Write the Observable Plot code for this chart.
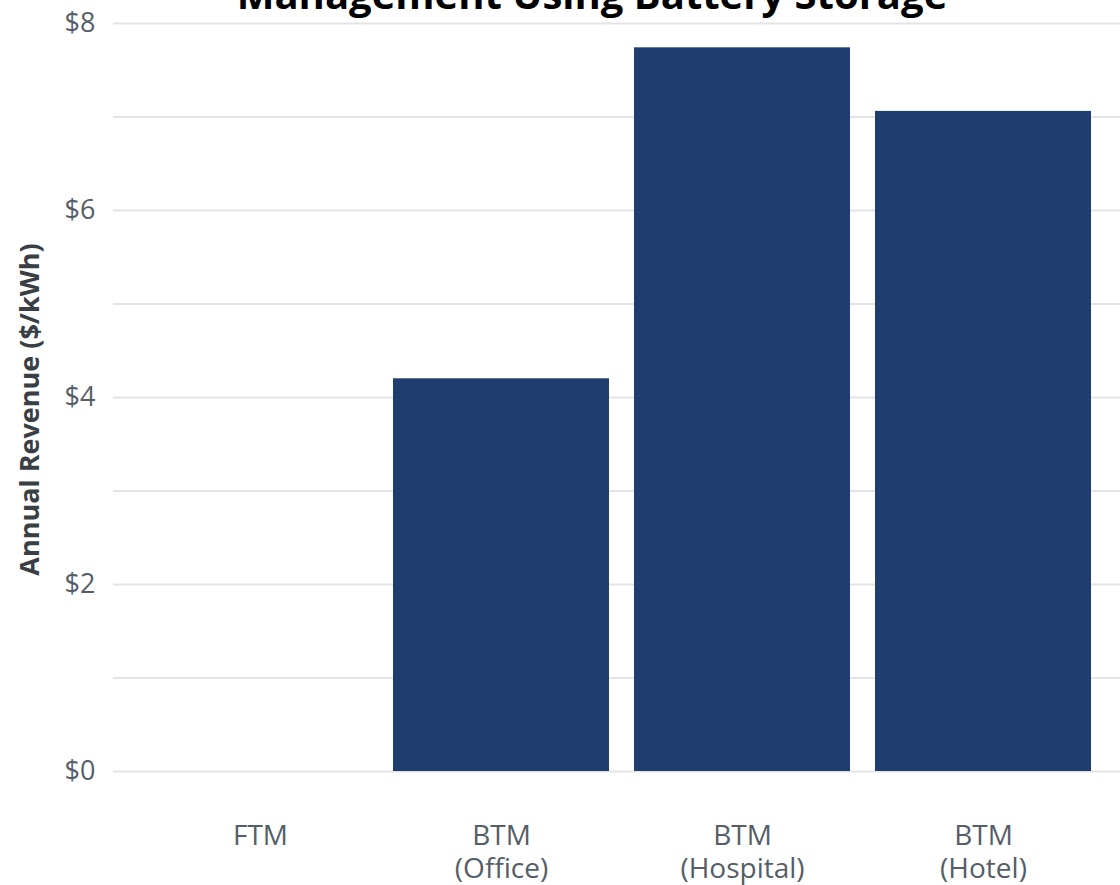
<!DOCTYPE html>
<html>
<head>
<meta charset="utf-8">
<script src="https://cdn.jsdelivr.net/npm/d3@7"></script>
<script src="https://cdn.jsdelivr.net/npm/@observablehq/plot@0.6"></script>
<style>
  html, body { margin: 0; padding: 0; background: #fff; overflow: hidden; }
  #wrap { position: relative; width: 1120px; height: 885px; }
  #title {
    position: absolute; left: 0; top: -26px; width: 1184px;
    text-align: center; font-family: "Open Sans", sans-serif; font-weight: 700;
    font-size: 40px; line-height: 40px; color: #000; white-space: nowrap;
  }
  #chart { position: absolute; left: 0; top: 0; }
</style>
</head>
<body>
<div id="wrap">
  <div id="chart"></div>
  <div id="title">Management Using Battery Storage</div>
</div>
<script>
const categories = ["FTM", "BTM (Office)", "BTM (Hospital)", "BTM (Hotel)"];
const tickLabels = ["FTM", "BTM\n(Office)", "BTM\n(Hospital)", "BTM\n(Hotel)"];
const revenue = [0, 4.20, 7.74, 7.06];
const yTicks = [0, 2, 4, 6, 8];
const yGrid = [0, 1, 2, 3, 4, 5, 6, 7, 8];
const yLabel = "Annual Revenue ($/kWh)";

const data = categories.map((c, i) => ({cat: c, value: revenue[i]}));
const labelOf = new Map(categories.map((c, i) => [c, tickLabels[i]]));

const chart = Plot.plot({
  width: 1120,
  height: 885,
  marginTop: 23,
  marginBottom: 114,
  marginLeft: 113,
  marginRight: 0,
  style: {fontFamily: "'Open Sans', sans-serif", background: "transparent", overflow: "visible"},
  x: {type: "band", domain: categories, range: [113.7, 1129.6], paddingInner: 0.102, paddingOuter: 0.15},
  y: {domain: [0, 8]},
  marks: [
    Plot.gridY(yGrid, {stroke: "#e4e4e4", strokeWidth: 2, strokeOpacity: 1}),
    Plot.barY(data, {x: "cat", y: "value", fill: "#1f3d6f"}),
    Plot.axisY(yTicks, {
      tickSize: 0, tickPadding: 18, label: null,
      tickFormat: d => "$" + d, fontSize: 27, fill: "#555e68"
    }),
    Plot.axisX({
      tickSize: 0, tickPadding: 50, label: null,
      tickFormat: d => labelOf.get(d), fontSize: 28, fill: "#555e68", lineHeight: 1.18
    }),
    Plot.text([yLabel], {
      frameAnchor: "left", dx: -83, dy: 12, rotate: -90, text: d => d,
      fontSize: 27, fontWeight: 700, fill: "#3a3f46", textAnchor: "middle", lineAnchor: "middle"
    })
  ]
});
document.getElementById("chart").appendChild(chart);
</script>
</body>
</html>
